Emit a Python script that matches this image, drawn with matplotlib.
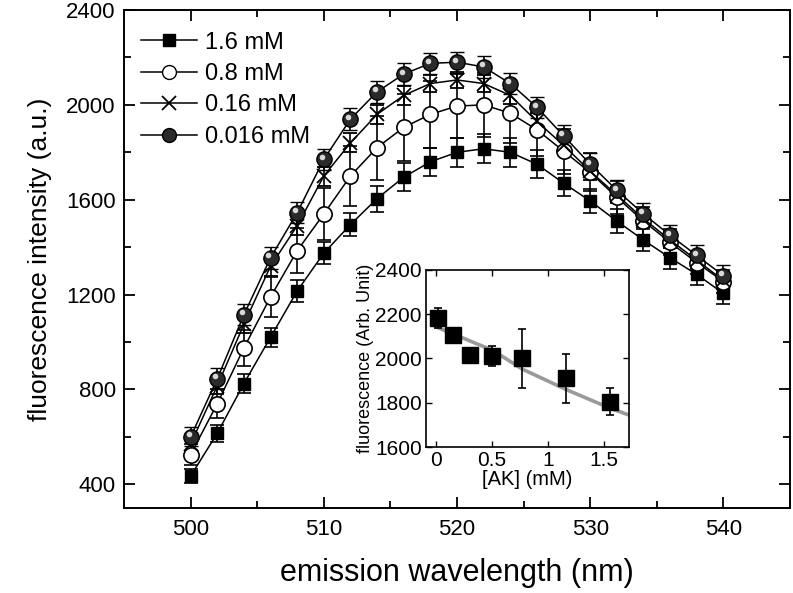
import matplotlib
matplotlib.use("Agg")
import matplotlib.pyplot as plt
import matplotlib.transforms as mtransforms
from matplotlib.lines import Line2D

plt.rcParams['font.family'] = ['Liberation Sans', 'DejaVu Sans']

# ---------------- data ----------------
wavelength = [500, 502, 504, 506, 508, 510, 512, 514, 516, 518, 520,
              522, 524, 526, 528, 530, 532, 534, 536, 538, 540]

int_1p6 = [435, 615, 825, 1020, 1215, 1375, 1495, 1605, 1695, 1760, 1800,
           1815, 1800, 1750, 1670, 1595, 1510, 1430, 1355, 1285, 1205]
err_1p6 = [30, 35, 40, 40, 45, 45, 50, 55, 60, 60, 62,
           62, 60, 58, 55, 52, 50, 48, 45, 45, 45]

int_0p8 = [525, 740, 975, 1190, 1385, 1540, 1700, 1820, 1905, 1960, 1995,
           2000, 1965, 1895, 1805, 1715, 1610, 1510, 1420, 1335, 1255]
err_0p8 = [45, 60, 75, 85, 95, 110, 125, 135, 140, 140, 135,
           135, 125, 110, 95, 80, 70, 60, 55, 50, 50]

int_0p16 = [570, 815, 1075, 1320, 1490, 1700, 1840, 1960, 2040, 2090, 2105,
            2090, 2040, 1930, 1830, 1720, 1620, 1520, 1430, 1345, 1260]
err_0p16 = [30, 35, 35, 40, 40, 40, 40, 40, 40, 35, 35,
            35, 35, 35, 35, 35, 35, 35, 35, 35, 35]

int_0p016 = [600, 845, 1115, 1355, 1545, 1770, 1940, 2055, 2130, 2175, 2180,
             2160, 2090, 1990, 1870, 1750, 1640, 1540, 1450, 1365, 1280]
err_0p016 = [40, 45, 45, 45, 45, 45, 45, 45, 45, 45, 45,
             45, 45, 45, 45, 45, 45, 45, 45, 45, 45]

labels = ['1.6 mM', '0.8 mM', '0.16 mM', '0.016 mM']

# inset data
ak_conc = [0.016, 0.15, 0.30, 0.50, 0.77, 1.16, 1.55]
ak_fluor = [2185, 2105, 2015, 2010, 2000, 1910, 1805]
ak_err = [45, 30, 20, 45, 135, 112, 62]
fit_x = [0.0, 0.51, 0.77, 1.16, 1.55, 1.74]
fit_y = [2143, 2036, 1952, 1860, 1776, 1741]

# ---------------- figure ----------------
fig = plt.figure(figsize=(7.93, 5.93), dpi=100)
ax = fig.add_axes([0.1564, 0.1433, 0.9962 - 0.1564, 0.9831 - 0.1433])

lw = 1.1
ebkw = dict(ecolor='black', elinewidth=1.2, capsize=5, capthick=1.2)

ax.errorbar(wavelength, int_1p6, yerr=err_1p6, color='black', lw=lw,
            marker='s', ms=9, mfc='black', mec='black', **ebkw)
ax.errorbar(wavelength, int_0p8, yerr=err_0p8, color='black', lw=lw,
            marker='o', ms=11, mfc='white', mec='black', mew=1.2, **ebkw)
ax.errorbar(wavelength, int_0p16, yerr=err_0p16, color='black', lw=lw,
            marker='x', ms=10, mec='black', mew=1.3, **ebkw)
ax.errorbar(wavelength, int_0p016, yerr=err_0p016, color='black', lw=lw,
            marker='o', ms=11, mfc='#2a2a2a', mec='black', mew=1.0, **ebkw)
# sphere highlight
offset = mtransforms.offset_copy(ax.transData, fig=fig, x=-1.5, y=1.8, units='points')
ax.plot(wavelength, int_0p016, ls='none', marker='o', ms=4, mfc='#d8d8d8',
        mec='none', transform=offset, zorder=5)

ax.set_xlim(495, 545)
ax.set_ylim(300, 2400)
ax.set_xticks([500, 510, 520, 530, 540])
ax.set_xticks([505, 515, 525, 535, 545], minor=True)
ax.set_yticks([400, 800, 1200, 1600, 2000, 2400])
ax.set_yticks([600, 1000, 1400, 1800, 2200], minor=True)
ax.tick_params(which='both', direction='in', top=True, right=True,
               labelsize=16, width=1.3)
ax.tick_params(which='major', length=8)
ax.tick_params(axis='x', which='major', pad=8)
ax.tick_params(axis='y', which='major', pad=6)
ax.tick_params(which='minor', length=5)
for s in ax.spines.values():
    s.set_linewidth(1.4)
ax.set_xlabel('emission wavelength (nm)', fontsize=22)
ax.xaxis.label.set_va('center')
ax.xaxis.set_label_coords(0.5, -0.13)
ax.set_ylabel('fluorescence intensity (a.u.)', fontsize=19, labelpad=10)

# legend proxies
proxies = [
    Line2D([], [], color='black', lw=lw, marker='s', ms=9, mfc='black', mec='black'),
    Line2D([], [], color='black', lw=lw, marker='o', ms=10, mfc='white', mec='black'),
    Line2D([], [], color='black', lw=lw, marker='x', ms=10, mec='black', mew=1.3),
    Line2D([], [], color='black', lw=lw, marker='o', ms=10, mfc='#2a2a2a', mec='black'),
]
ax.legend(proxies, labels, loc='upper left', frameon=False, fontsize=17,
          handlelength=2.4, handletextpad=0.35, labelspacing=0.4,
          borderaxespad=0.3, bbox_to_anchor=(0.0, 0.99))

# ---------------- inset ----------------
axi = fig.add_axes([0.537, 0.2462, 0.793 - 0.537, 0.5447 - 0.2462])
axi.plot(fit_x, fit_y, color='#9a9a9a', lw=2.6, zorder=2)
axi.errorbar(ak_conc, ak_fluor, yerr=ak_err, ls='none', marker='s', ms=12,
             mfc='black', mec='black', ecolor='black', elinewidth=1.2,
             capsize=3, capthick=1.2, zorder=3)
axi.set_xlim(-0.09, 1.72)
axi.set_ylim(1600, 2400)
axi.set_xticks([0, 0.5, 1, 1.5])
axi.set_xticklabels(['0', '0.5', '1', '1.5'])
axi.set_yticks([1600, 1800, 2000, 2200, 2400])
axi.tick_params(direction='in', top=True, right=True, labelsize=15,
                length=4, width=1.0, pad=3)
for s in axi.spines.values():
    s.set_linewidth(1.2)
axi.set_xlabel('[AK] (mM)', fontsize=14.5, labelpad=0)
axi.set_ylabel('fluorescence (Arb. Unit)', fontsize=13, labelpad=1)

fig.savefig('out.png', dpi=100)
